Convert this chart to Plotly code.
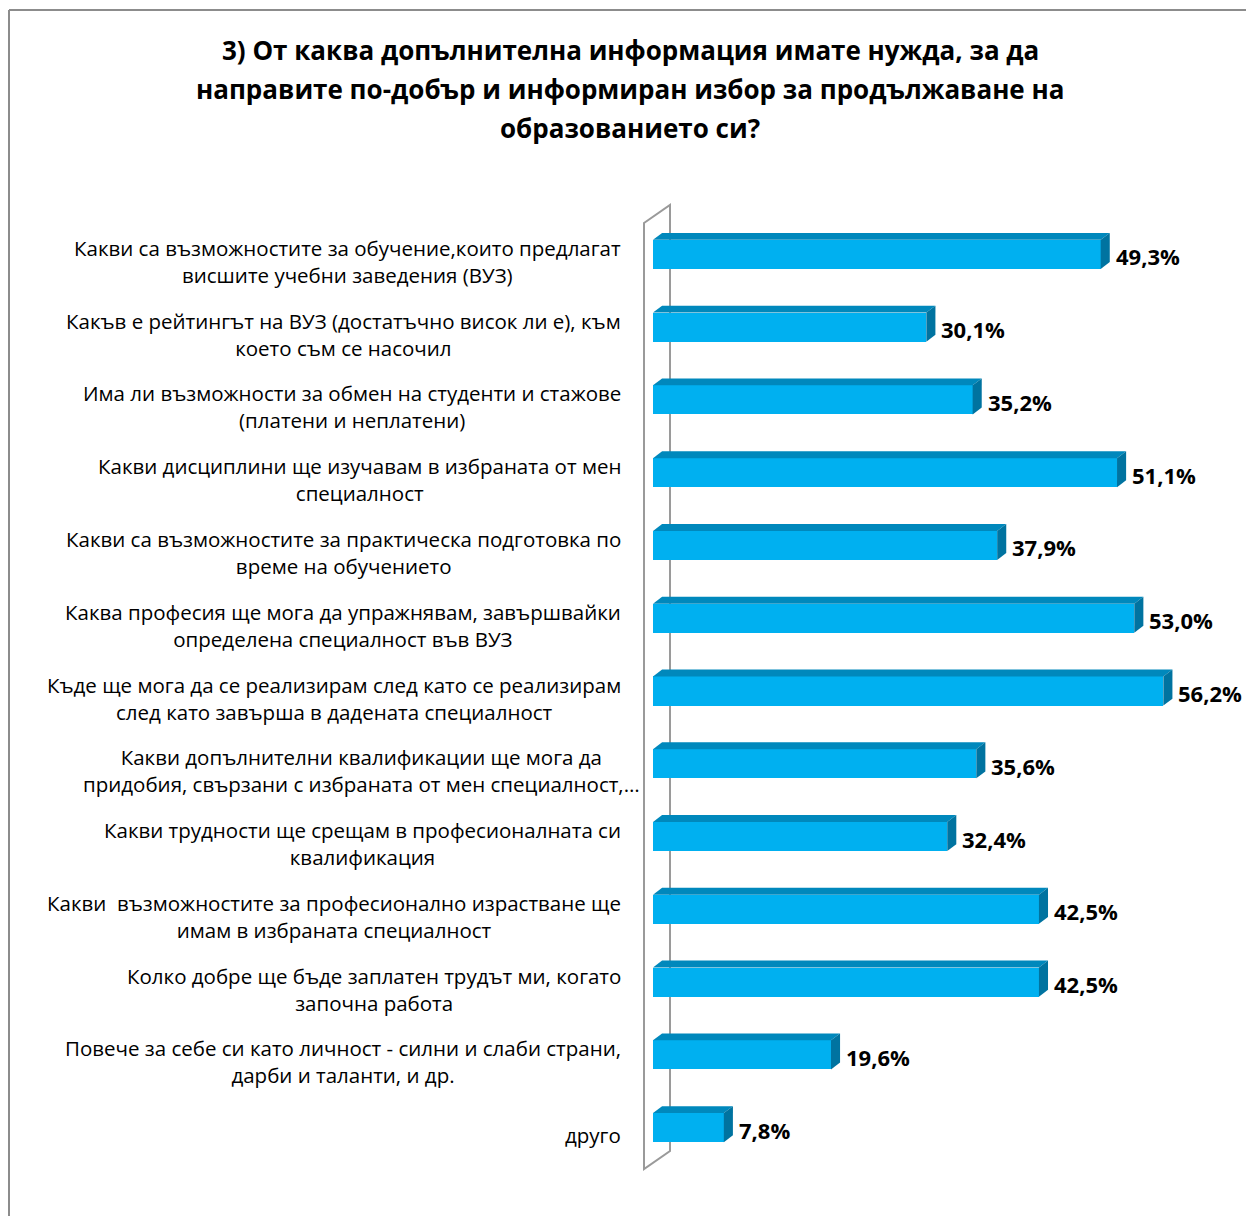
import plotly.graph_objects as go

categories = [
    "Какви са възможностите за обучение,които предлагат<br>висшите учебни заведения (ВУЗ)",
    "Какъв е рейтингът на ВУЗ (достатъчно висок ли е), към<br>което съм се насочил",
    "Има ли възможности за обмен на студенти и стажове<br>(платени и неплатени)",
    "Какви дисциплини ще изучавам в избраната от мен<br>специалност",
    "Какви са възможностите за практическа подготовка по<br>време на обучението",
    "Каква професия ще мога да упражнявам, завършвайки<br>определена специалност във ВУЗ",
    "Къде ще мога да се реализирам след като се реализирам<br>след като завърша в дадената специалност",
    "Какви допълнителни квалификации ще мога да<br>придобия, свързани с избраната от мен специалност,…",
    "Какви трудности ще срещам в професионалната си<br>квалификация",
    "Какви  възможностите за професионално израстване ще<br>имам в избраната специалност",
    "Колко добре ще бъде заплатен трудът ми, когато<br>започна работа",
    "Повече за себе си като личност - силни и слаби страни,<br>дарби и таланти, и др.",
    "друго",
]
values = [49.3, 30.1, 35.2, 51.1, 37.9, 53.0, 56.2, 35.6, 32.4, 42.5, 42.5, 19.6, 7.8]
title_lines = [
    "3) От каква допълнителна информация имате нужда, за да",
    "направите по-добър и информиран избор за продължаване на",
    "образованието си?",
]

FONT = "Open Sans"
W, H = 1246, 1216
PL, PT = 653, 218            # plot area left/top in px
PW, PH = 573, 946            # plot area width/height in px
XMAX = 63.1
n = len(values)

def px(xp):
    return (xp - PL) / PW

def py(yp):
    return 1 - (yp - PT) / PH

FRONT = "#00B0F0"
TOP = "#0088BC"
SIDE = "#0073A0"
bw = 0.4
dx = 1.0      # depth in x data units
dy = 0.095    # depth in y data units

ys = list(range(n))
fig = go.Figure()

fig.add_trace(go.Bar(
    x=values, y=ys, orientation="h", width=bw, base=0,
    marker=dict(color=FRONT, line=dict(width=0)), hoverinfo="skip", showlegend=False,
))

for v, y in zip(values, ys):
    top = y - bw / 2
    bot = y + bw / 2
    fig.add_trace(go.Scatter(
        x=[0, v, v + dx, dx, 0], y=[top, top, top - dy, top - dy, top],
        fill="toself", fillcolor=TOP, mode="lines", line=dict(width=0, color=TOP),
        hoverinfo="skip", showlegend=False))
    fig.add_trace(go.Scatter(
        x=[v, v + dx, v + dx, v, v], y=[top, top - dy, bot - dy, bot, top],
        fill="toself", fillcolor=SIDE, mode="lines", line=dict(width=0, color=SIDE),
        hoverinfo="skip", showlegend=False))

annotations = []
for i, (c, v, y) in enumerate(zip(categories, values, ys)):
    xr = 642 if i == 7 else 623
    annotations.append(dict(
        text=c, xref="paper", yref="y", x=px(xr), y=y, xanchor="right", yanchor="middle",
        align="center", showarrow=False, yshift=-7,
        font=dict(family=FONT, size=20.5, color="#000000")))
    annotations.append(dict(
        text=f"{v:.1f}".replace(".", ",") + "%", xref="x", yref="y", x=v + dx, y=y,
        xanchor="left", yanchor="middle", xshift=4, yshift=-2, showarrow=False,
        font=dict(family=FONT, size=22, color="#000000", weight="bold")))

for k, (line, yc) in enumerate(zip(title_lines, [50, 89, 128])):
    annotations.append(dict(
        text=line, xref="paper", yref="paper", x=px(630), y=py(yc),
        xanchor="center", yanchor="middle", align="center", showarrow=False,
        font=dict(family=FONT, size=26, color="#000000", weight="bold")))

shapes = []
# 3D wall
wall = (f"M {px(644)} {py(223)} L {px(670)} {py(205)} L {px(670)} {py(1151)} "
        f"L {px(644)} {py(1169)} Z")
shapes.append(dict(type="path", xref="paper", yref="paper", path=wall,
                   line=dict(color="#9A9A9A", width=2), fillcolor="rgba(0,0,0,0)", layer="below"))
# chart frame
shapes.append(dict(type="line", xref="paper", yref="paper", x0=px(9), y0=py(10), x1=px(9), y1=py(1220),
                   line=dict(color="#8C8C8C", width=2)))
shapes.append(dict(type="line", xref="paper", yref="paper", x0=px(9), y0=py(10), x1=px(1250), y1=py(10),
                   line=dict(color="#8C8C8C", width=2)))

fig.update_layout(
    width=W, height=H,
    margin=dict(l=PL, r=W - PL - PW, t=PT, b=H - PT - PH, pad=0),
    paper_bgcolor="white", plot_bgcolor="rgba(0,0,0,0)",
    xaxis=dict(range=[0, XMAX], visible=False, fixedrange=True),
    yaxis=dict(range=[n - 0.5, -0.5], visible=False, fixedrange=True),
    annotations=annotations, shapes=shapes, showlegend=False, bargap=0,
)

fig.write_html("out.html", config={"displayModeBar": False},
               post_script="document.body.style.margin='0';document.body.style.padding='0';"
                           "document.body.style.overflow='hidden';")
